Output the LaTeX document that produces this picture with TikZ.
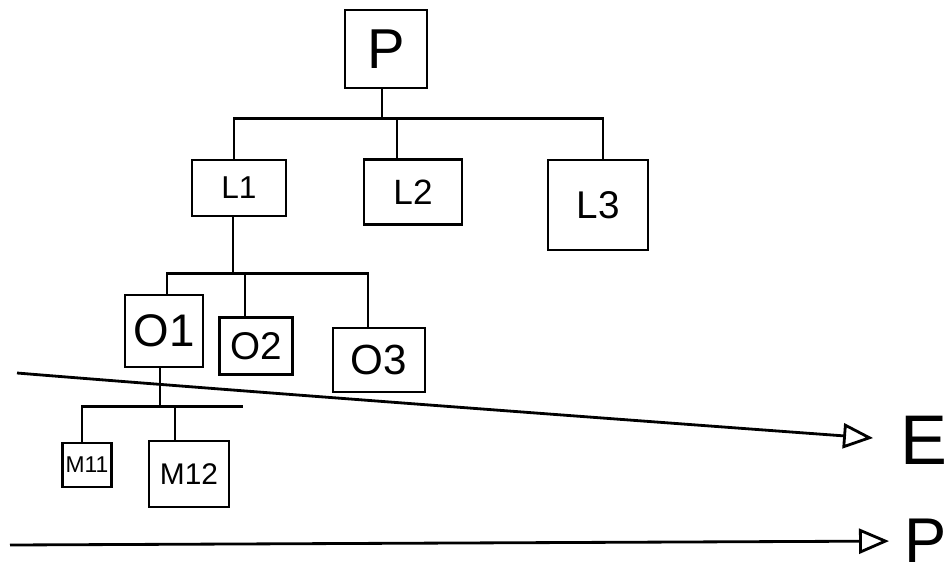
\documentclass[tikz,border=0pt]{standalone}
\usepackage{fontspec}
\setmainfont{Liberation Sans}
\usetikzlibrary{arrows.meta}

\tikzset{
    box/.style={draw, line width=1.6pt, inner sep=0pt},
    link/.style={line width=1.6pt},
    flow/.style={line width=1.6pt, -{Triangle[open, length=0.6cm, width=0.5cm]}}
}

\begin{document}
\begin{tikzpicture}[x=0.02cm, y=-0.02cm]

        \useasboundingbox (0,0) rectangle (952,581);

        % Wurzel
        \node[box, minimum width=1.64cm, minimum height=1.56cm, font=\fontsize{32}{32}\selectfont] (P) at (386,49) {P};

        % Ebene L
        \node[box, minimum width=1.88cm, minimum height=1.12cm, font=\fontsize{18}{18}\selectfont] (L1) at (239,188) {L1};
        \node[box, minimum width=1.96cm, minimum height=1.30cm, font=\fontsize{20}{20}\selectfont] (L2) at (413,192) {L2};
        \node[box, minimum width=2.00cm, minimum height=1.80cm, font=\fontsize{22}{22}\selectfont] (L3) at (598,205) {L3};

        % Ebene O
        \node[box, minimum width=1.56cm, minimum height=1.44cm, font=\fontsize{26}{26}\selectfont] (O1) at (164,331) {O1};
        \node[box, minimum width=1.46cm, minimum height=1.14cm, font=\fontsize{22}{22}\selectfont] (O2) at (256,346) {O2};
        \node[box, minimum width=1.84cm, minimum height=1.28cm, font=\fontsize{24}{24}\selectfont] (O3) at (379,360) {O3};

        % Ebene M
        \node[box, minimum width=0.98cm, minimum height=0.88cm, font=\fontsize{13}{13}\selectfont] (M11) at (87,465) {M11};
        \node[box, minimum width=1.60cm, minimum height=1.32cm, font=\fontsize{17}{17}\selectfont] (M12) at (189,474) {M12};

        % Achsen rechts
        \node[anchor=west, inner sep=0pt, font=\fontsize{40}{40}\selectfont] (E) at (900,440) {E};
        \node[anchor=west, inner sep=0pt, font=\fontsize{36}{36}\selectfont] (Pr) at (904,541) {P};

        % Verbindungen P -> L
        \draw[link] ([xshift=-0.08cm]P.south) -- ++(0,29) coordinate (barL);
        \foreach \c/\d in {L1/-5, L2/-16, L3/5}
            {
                \draw[link] (barL) -| ([xshift=\d*0.02cm]\c.north);
            };

        % Verbindungen L1 -> O
        \draw[link] ([xshift=-0.12cm]L1.south) -- ++(0,56) coordinate (barO);
        \foreach \c/\d in {O1/3, O2/-11, O3/-11}
            {
                \draw[link] (barO) -| ([xshift=\d*0.02cm]\c.north);
            };

        % Verbindungen O1 -> M
        \draw[link] ([xshift=-0.08cm]O1.south) -- ++(0,38) coordinate (barM);
        \foreach \c/\d in {M11/-5, M12/-14}
            {
                \draw[link] (barM) -| ([xshift=\d*0.02cm]\c.north);
            };
        \draw[link] (barM) -- ++(83,0);  % Verlaengerung

        % Pfeile
        \coordinate (eStart) at (17,373);
        \coordinate (pStart) at (10,545);
        \draw[flow, shorten >=0.54cm] (eStart) .. controls (200,388) and (600,418) .. (E.west);
        \draw[flow, shorten >=0.3cm] (pStart) -- (Pr.west);

    \end{tikzpicture}
\end{document}
